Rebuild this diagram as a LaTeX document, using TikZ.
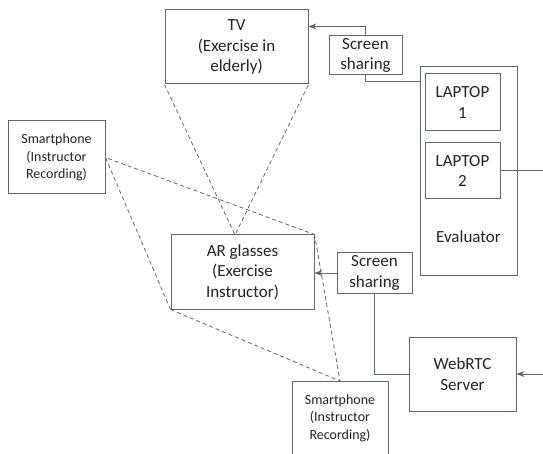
\documentclass[tikz,border=0pt]{standalone}
\usepackage{fontspec}
\setmainfont{Carlito}
\usepackage{xcolor}
\usepackage{tikz}
\usetikzlibrary{arrows.meta}

\definecolor{edgegray}{RGB}{95,100,118}
\definecolor{dashgray}{RGB}{100,102,112}
\definecolor{txtgray}{RGB}{35,35,35}

\begin{document}
\begin{tikzpicture}[x=1pt, y=-1pt, >={Stealth[length=8pt,width=6pt]},
                        box/.style={rectangle, draw=edgegray, line width=1pt, fill=white,
                                    align=center, text=txtgray, inner sep=1pt,
                                    font=\fontsize{17}{20.5}\selectfont},
                        smallbox/.style={box, font=\fontsize{14}{17.5}\selectfont},
                        conn/.style={draw=edgegray, line width=1pt},
                        view/.style={draw=dashgray, line width=0.8pt, dash pattern=on 4pt off 3pt}]
        \useasboundingbox (0,0) rectangle (543,454);
        % Nodes
        \node[box, minimum width=143pt, minimum height=74pt] (tv) at (236.5,47) {TV\\(Exercise in\\elderly)};
        \node[box, minimum width=97pt, minimum height=208pt] (evalu) at (468.5,171) {};
        \node[box, minimum width=75pt, minimum height=57pt] (lap1) at (462.5,102.5) {LAPTOP\\1};
        \node[box, minimum width=75pt, minimum height=56pt] (lap2) at (462.5,171) {LAPTOP\\2};
        \node[box, draw=none, fill=none] (evaltxt) at (468.5,237) {Evaluator};
        \node[smallbox, minimum width=97pt, minimum height=73pt] (phL) at (56.5,157.5) {Smartphone\\(Instructor\\Recording)};
        \node[box, minimum width=143pt, minimum height=74pt] (ar) at (242.5,272) {AR glasses\\(Exercise\\Instructor)};
        \node[box, minimum width=107pt, minimum height=74pt] (web) at (462.5,374) {WebRTC\\Server};
        \node[smallbox, minimum width=96pt, minimum height=73pt] (phB) at (340,418) {Smartphone\\(Instructor\\Recording)};
        \node[box, minimum width=73pt, minimum height=39pt] (ss1) at (365.5,55.5) {Screen\\sharing};
        \node[box, minimum width=75pt, minimum height=40pt] (ss2) at (374.5,273) {Screen\\sharing};
        \coordinate (arview) at (235,235);
        \coordinate (rbus) at (547,300);
        % Views
        \draw[view] (tv.south west) -- (arview) -- (tv.south east);
        \draw[view] (ar.south west) -- (phL.east) -- (ar.north east);
        \draw[view] (ar.south west) -- (phB.north) -- (ar.north east);
        % Edges
        \draw[conn] (ss1.south) |- ([yshift=-15pt]evalu.north west);
        \draw[conn, ->] (ss1.north) |- ([yshift=-17pt]tv.north east);
        \draw[conn, ->] (ss2.west) -- (ar.east |- ss2.west);
        \draw[conn] (web.west) -| (ss2.south);
        \draw[conn, ->] (lap2.east) -| (rbus) |- (web.east);
    \end{tikzpicture}
\end{document}
